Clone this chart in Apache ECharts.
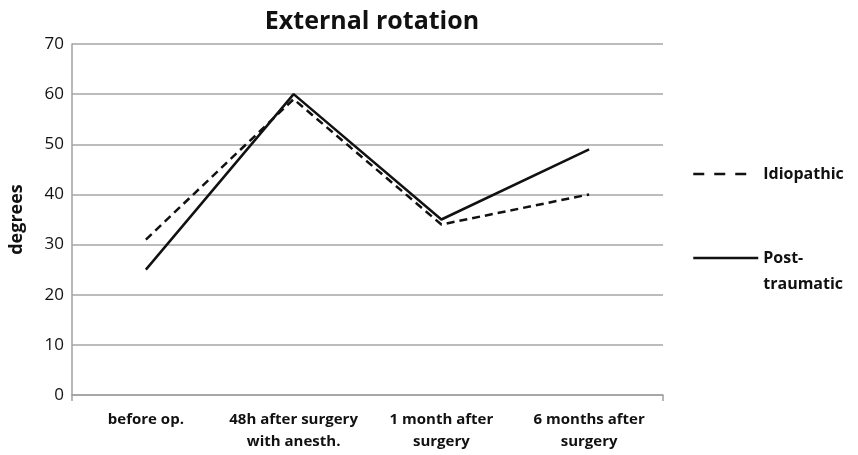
<!DOCTYPE html>
<html>
<head>
<meta charset="utf-8">
<script src="https://cdn.jsdelivr.net/npm/echarts@6/dist/echarts.min.js"></script>
<style>html,body{margin:0;padding:0;background:#fff}#c{width:858px;height:455px}</style>
</head>
<body>
<div id="c"></div>
<script>
const categories = ['before op.', '48h after surgery\nwith anesth.', '1 month after\nsurgery', '6 months after\nsurgery'];
const idiopathic = [31, 59, 34, 40];
const postTraumatic = [25, 60, 35, 49];
const yTicks = {min: 0, max: 70, interval: 10};
const FONT = '"Open Sans", sans-serif';

const chart = echarts.init(document.getElementById('c'));
const hiddenSymbol = {color: 'rgba(0,0,0,0)', borderWidth: 0, borderColor: 'rgba(0,0,0,0)'};
chart.setOption({
  animation: false,
  backgroundColor: '#fff',
  title: {
    text: 'External rotation', left: 367, top: 4, textAlign: 'center',
    textStyle: {fontFamily: FONT, fontSize: 25, fontWeight: 'bold', color: '#111'}
  },
  grid: {left: 71, right: 195, top: 44, bottom: 60},
  legend: [
    {
      data: ['Idiopathic'], orient: 'vertical', left: 692, top: 161, padding: 0,
      itemWidth: 54, itemHeight: 14, itemGap: 10,
      itemStyle: hiddenSymbol,
      lineStyle: {type: [11, 10], width: 2.5, color: '#111'},
      textStyle: {fontFamily: FONT, fontSize: 16, fontWeight: 'bold', color: '#111', lineHeight: 26, padding: [0, 0, 0, 11]}
    },
    {
      data: ['Post-traumatic'], orient: 'vertical', left: 692, top: 219, padding: 0,
      itemWidth: 65, itemHeight: 14, itemGap: 0,
      itemStyle: hiddenSymbol,
      lineStyle: {type: 'solid', width: 2.5, color: '#111'},
      formatter: function(){ return '\nPost-\ntraumatic'; },
      textStyle: {fontFamily: FONT, fontSize: 16, fontWeight: 'bold', color: '#111', lineHeight: 26}
    }
  ],
  xAxis: [
    {
      type: 'category', data: categories, boundaryGap: true,
      axisLine: {lineStyle: {color: '#a0a0a0', width: 1.5}},
      axisTick: {alignWithLabel: true, length: 6, lineStyle: {color: '#a0a0a0', width: 1.5}},
      axisLabel: {fontFamily: FONT, fontSize: 15, fontWeight: 'bold', color: '#111', lineHeight: 22, margin: 14, interval: 0}
    },
    {
      type: 'category', data: ['', ''], boundaryGap: false, position: 'bottom',
      axisLine: {show: false}, axisLabel: {show: false},
      axisTick: {length: 6, lineStyle: {color: '#a0a0a0', width: 1.5}}
    }
  ],
  yAxis: {
    type: 'value', min: yTicks.min, max: yTicks.max, interval: yTicks.interval,
    name: 'degrees', nameLocation: 'middle', nameGap: 46, nameRotate: 90,
    nameTextStyle: {fontFamily: FONT, fontSize: 18, fontWeight: 'bold', color: '#111'},
    axisLine: {show: true, lineStyle: {color: '#a0a0a0', width: 1.5}},
    axisTick: {show: false},
    splitLine: {lineStyle: {color: '#a6a6a6', width: 1.5}},
    axisLabel: {fontFamily: FONT, fontSize: 17, color: '#111', margin: 8}
  },
  series: [
    {
      name: 'Idiopathic', type: 'line', data: idiopathic, symbol: 'none',
      lineStyle: {color: '#111', width: 2.5, type: [8, 5]}, itemStyle: {color: '#111'}
    },
    {
      name: 'Post-traumatic', type: 'line', data: postTraumatic, symbol: 'none',
      lineStyle: {color: '#111', width: 2.5, type: 'solid'}, itemStyle: {color: '#111'}
    }
  ]
});
</script>
</body>
</html>
